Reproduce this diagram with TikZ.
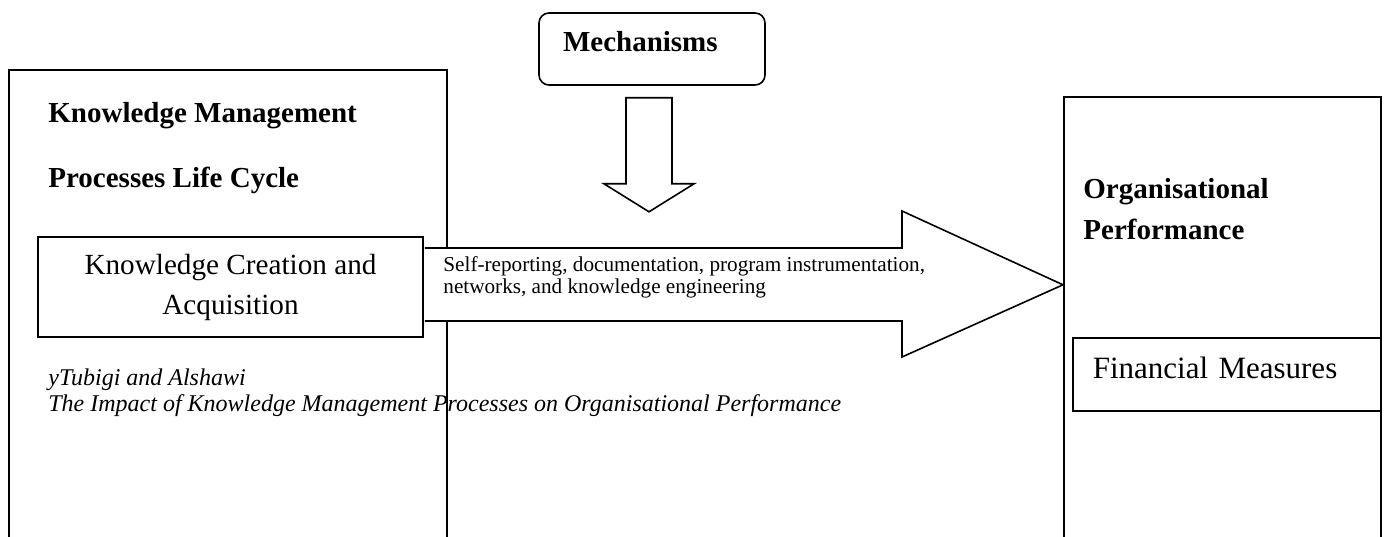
\documentclass[tikz,border=0pt]{standalone}
\usepackage{fontspec}
\setmainfont{Liberation Serif}
\usetikzlibrary{calc}

\begin{document}
\begin{tikzpicture}[x=0.5pt,y=0.5pt,
  box/.style={draw=black, line width=0.8pt, inner sep=0pt},
  heading/.style={anchor=base west, inner sep=0pt, font=\fontsize{14.5}{17}\selectfont\bfseries},
  bigtext/.style={font=\fontsize{14.6}{20}\selectfont},
  hollow arrow/.style={draw=black, line width=0.8pt, fill=white}]
\useasboundingbox (0,0) rectangle (1384,536);
\clip (0,0) rectangle (1384,536);
% outer boxes
\node [box, minimum width=219pt, minimum height=240pt, anchor=north west] (kmp) at (8,467) {};
\node [box, minimum width=158.5pt, minimum height=225pt, anchor=north west] (orgperf) at (1063,440) {};
\node [heading] (kmptitle) at (48,413) {Knowledge Management};
\node [heading] (kmptitleb) at (48,348) {Processes Life Cycle};
\node [heading] (optitle) at (1083,337) {Organisational};
\node [heading] (optitleb) at (1083,297) {Performance};
% mechanisms
\node [box, rounded corners=5pt, minimum height=36pt, text width=89pt, inner xsep=12pt,
  align=left, text height=10pt, text depth=7pt, font=\fontsize{14.5}{17}\selectfont\bfseries] (mech) at (652,487) {Mechanisms};
\draw [hollow arrow] ($(mech.south)+(-26,-12)$) -- ++(0,-86) -- ++(-22,0) -- ++(45,-28) -- ++(45,28) -- ++(-22,0) -- ++(0,86) -- cycle;
% big arrow
\node [box, minimum width=192.5pt, minimum height=50pt, align=center, bigtext] (kca) at (230.5,249) {};
\coordinate (tip) at ($(orgperf.west)+(0,37)$);
\draw [hollow arrow] ($(kca.east)+(1,39)$) -- (902,288) -- (902,325) -- (tip) -- (902,179) -- (902,215) -- ($(kca.east)+(1,-34)$);
\node [box, minimum width=192.5pt, minimum height=50pt, align=center, bigtext] (kcabox) at (kca) {Knowledge Creation and\\Acquisition};
\node [anchor=base west, inner sep=0pt, align=left, font=\fontsize{10.6}{11}\selectfont] (mechtext) at (443,243) {Self-reporting, documentation, program instrumentation,\\networks, and knowledge engineering};
% financial measures
\node [box, anchor=north east, minimum height=36.5pt, text width=134pt, inner xsep=10pt, align=left,
  text height=10pt, text depth=6pt, font=\fontsize{15.5}{17}\selectfont] (fin) at (orgperf.north east |- 0,199) {Financial Measures};
% source note
\node [anchor=base west, inner sep=0pt, align=left, font=\fontsize{12}{13}\selectfont\itshape] (source) at (48,125) {yTubigi and Alshawi\\The Impact of Knowledge Management Processes on Organisational Performance};
\end{tikzpicture}
\end{document}
